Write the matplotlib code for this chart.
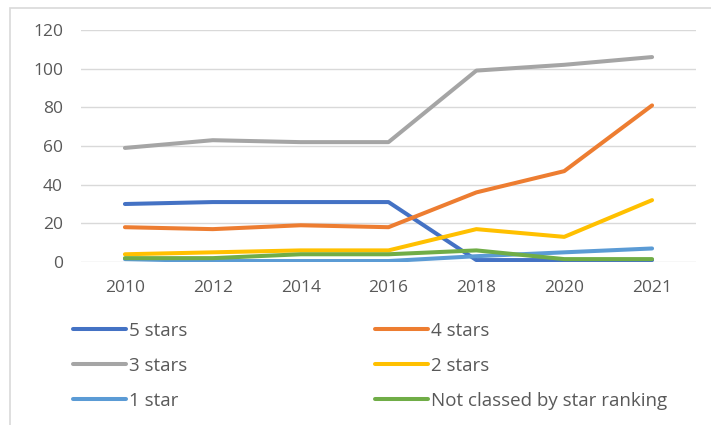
import matplotlib.pyplot as plt
from matplotlib.patches import Rectangle

plt.rcParams['font.family'] = ['Open Sans', 'DejaVu Sans']

years = ['2010', '2012', '2014', '2016', '2018', '2020', '2021']
five_stars = [30, 31, 31, 31, 1, 1, 1]
four_stars = [18, 17, 19, 18, 36, 47, 81]
three_stars = [59, 63, 62, 62, 99, 102, 106]
two_stars = [4, 5, 6, 6, 17, 13, 32]
one_star = [1.5, 0.5, 0.5, 0.5, 3, 5, 7]
not_classed = [2, 2, 4, 4, 6, 1.5, 1.5]

series = [
    ('5 stars', five_stars, '#4472C4'),
    ('4 stars', four_stars, '#ED7D31'),
    ('3 stars', three_stars, '#A5A5A5'),
    ('2 stars', two_stars, '#FFC000'),
    ('1 star', one_star, '#5B9BD5'),
    ('Not classed by star ranking', not_classed, '#70AD47'),
]

W, H = 711, 425
fig = plt.figure(figsize=(W / 100, H / 100), dpi=100)
ax = fig.add_axes([81 / W, 1 - 262 / H, (696 - 81) / W, (262 - 30) / H])

# chart frame
fig.patches.append(Rectangle((10 / W, -0.1), 1.0, 1 - 8 / H + 0.1, transform=fig.transFigure,
                             fill=False, edgecolor='#D9D9D9', lw=1.2))

x = list(range(len(years)))
lines = {}
for label, vals, color in series:
    ln, = ax.plot(x, vals, color=color, lw=2.9, label=label, solid_capstyle='round')
    lines[label] = ln

ax.set_xlim(-0.5, len(years) - 0.5)
ax.set_ylim(0, 120)
ax.set_yticks(range(0, 121, 20))
ax.set_xticks(x)
ax.set_xticklabels(years)
ax.yaxis.grid(True, color='#D9D9D9', lw=1)
ax.set_axisbelow(True)
for s in ax.spines.values():
    s.set_visible(False)
ax.tick_params(axis='both', length=0, labelsize=12.5, colors='#595959')
ax.tick_params(axis='x', pad=13)
ax.tick_params(axis='y', pad=13)

order = ['5 stars', '3 stars', '1 star', '4 stars', '2 stars', 'Not classed by star ranking']
fig.legend([lines[k] for k in order], order, ncol=2, loc='upper left',
           bbox_to_anchor=(56 / W, 1 - 305 / H), frameon=False, fontsize=13.5,
           labelcolor='#595959', handlelength=2.83, handletextpad=0.16,
           columnspacing=10.0, labelspacing=0.9)

fig.savefig('out.png', dpi=100)
